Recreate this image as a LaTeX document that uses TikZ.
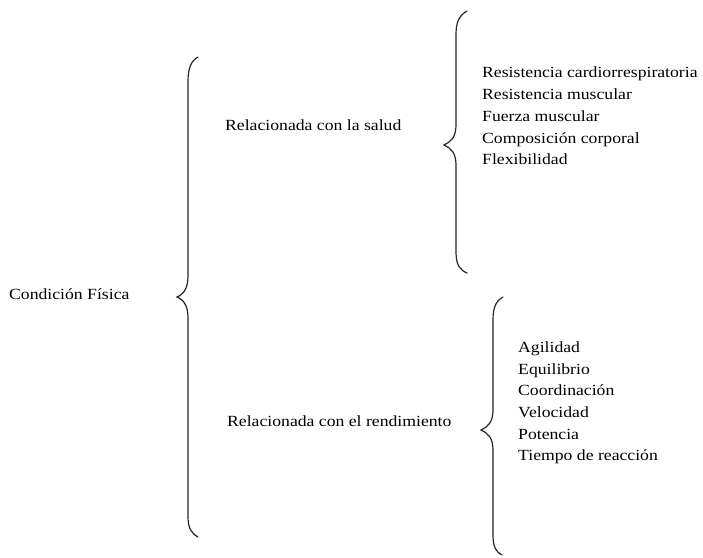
\documentclass[tikz,border=0pt]{standalone}
\usepackage{fontspec}
\setmainfont[FakeStretch=1.14]{Liberation Serif}
\begin{document}
\begin{tikzpicture}[x=1pt,y=-1pt,
  txt/.style={anchor=west,inner sep=0pt,font=\fontsize{15.5}{21.7}\selectfont},
  lst/.style={txt,align=left},
  brc/.style={line width=1.2pt,line cap=round,black!85}]
\useasboundingbox (0,0) rectangle (703,557);
\node[txt] (cf) at (9,294) {Condición Física};
\node[txt] (salud) at (225,125) {Relacionada con la salud};
\node[txt] (rend) at (227,421) {Relacionada con el rendimiento};
\node[lst] (l1) at (482,116) {Resistencia cardiorrespiratoria\\Resistencia muscular\\Fuerza muscular\\Composición corporal\\Flexibilidad};
\node[lst] (l2) at (518,403) {Agilidad\\Equilibrio\\Coordinación\\Velocidad\\Potencia\\Tiempo de reacción};
% big brace
\draw[brc] (198,57) .. controls (191,61) and (188,68) .. (188,82) -- (188,276)
  .. controls (188,288) and (184,294) .. (177,297)
  .. controls (184,300) and (188,306) .. (188,318) -- (188,516)
  .. controls (188,528) and (191,533) .. (198,537);
% brace 2
\draw[brc] (467,11) .. controls (460,15) and (456,21) .. (456,34) -- (456,125)
  .. controls (456,137) and (451,142) .. (444,145)
  .. controls (451,148) and (456,153) .. (456,165) -- (456,252)
  .. controls (456,265) and (460,270) .. (467,273);
% brace 3
\draw[brc] (503,297) .. controls (496,301) and (493,307) .. (493,320) -- (493,410)
  .. controls (493,422) and (488,427) .. (481,430)
  .. controls (488,433) and (493,438) .. (493,450) -- (493,535)
  .. controls (493,547) and (496,552) .. (502,555);
\end{tikzpicture}
\end{document}
